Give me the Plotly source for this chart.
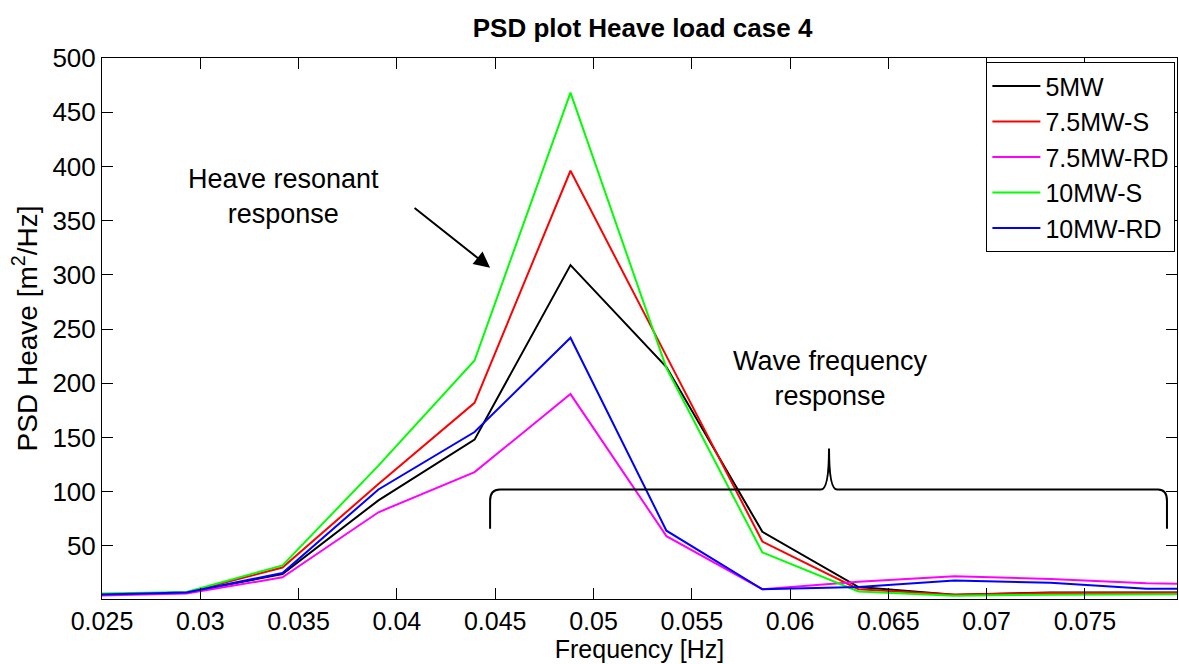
import plotly.graph_objects as go

# Frequency bins [Hz]
freq = [0.02441, 0.02930, 0.03418, 0.03906, 0.04395, 0.04883, 0.05371,
        0.05859, 0.06348, 0.06836, 0.07324, 0.07813, 0.08301]

# PSD of heave [m^2/Hz] for each design
psd_5mw = [5, 7, 24, 92, 148, 309, 215, 63, 12, 5, 7, 7.5, 7]
psd_75mw_s = [5, 7, 30, 107, 182, 396, 225, 54, 10, 5, 6.5, 7, 7]
psd_75mw_rd = [4, 6, 21, 81, 118, 190, 59, 10, 17, 22, 19.5, 15.5, 14]
psd_10mw_s = [6, 7.5, 32, 124, 221, 468, 214, 44, 8, 4, 5, 5.5, 5.5]
psd_10mw_rd = [5, 7, 25, 102, 155, 242, 64, 10, 12, 18, 16, 10.5, 10]

series_names = ["5MW", "7.5MW-S", "7.5MW-RD", "10MW-S", "10MW-RD"]
series_colors = ["#000000", "#ff0000", "#ff00ff", "#00ff00", "#0000ff"]
series_values = [psd_5mw, psd_75mw_s, psd_75mw_rd, psd_10mw_s, psd_10mw_rd]

x_ticks = [0.025, 0.03, 0.035, 0.04, 0.045, 0.05, 0.055, 0.06, 0.065, 0.07, 0.075]
x_tick_text = ["0.025", "0.03", "0.035", "0.04", "0.045", "0.05", "0.055",
               "0.06", "0.065", "0.07", "0.075"]
y_ticks = [50, 100, 150, 200, 250, 300, 350, 400, 450, 500]

FONT = "Liberation Sans, Arial, sans-serif"

fig = go.Figure()
for name, color, vals in zip(series_names, series_colors, series_values):
    fig.add_trace(go.Scatter(x=freq, y=vals, mode="lines", name=name,
                             line=dict(color=color, width=2)))

# Curly brace marking the wave-frequency band (data coordinates)
brace = ("M 0.04474,65.7 L 0.04474,91.7 Q 0.04474,101.9 0.04524,101.9 "
         "L 0.06157,101.9 Q 0.06198,101.9 0.06198,139.8 "
         "Q 0.06198,101.9 0.06239,101.9 "
         "L 0.07871,101.9 Q 0.07917,101.9 0.07917,91.7 L 0.07917,65.7")
fig.add_shape(type="path", path=brace, xref="x", yref="y",
              line=dict(color="black", width=2))

fig.add_annotation(x=0.03421, y=372.7, xref="x", yref="y",
                   text="Heave resonant<br>response", showarrow=False,
                   font=dict(family=FONT, size=27, color="black"),
                   xanchor="center", yanchor="middle")
fig.add_annotation(x=0.04474, y=306.5, xref="x", yref="y", text="",
                   showarrow=True, arrowhead=2, arrowsize=1.6, arrowwidth=2,
                   arrowcolor="black", ax=-77, ay=-61)
fig.add_annotation(x=0.06208, y=204.8, xref="x", yref="y",
                   text="Wave frequency<br>response", showarrow=False,
                   font=dict(family=FONT, size=27, color="black"),
                   xanchor="center", yanchor="middle")

fig.update_layout(
    width=1179, height=664,
    margin=dict(l=102, r=2, t=58, b=65),
    paper_bgcolor="white", plot_bgcolor="white",
    font=dict(family=FONT, size=26, color="black"),
    title=dict(text="<b>PSD plot Heave load case 4</b>", x=0.545, xanchor="center",
               y=0.958, yanchor="middle",
               font=dict(family=FONT, size=26, color="black")),
    showlegend=True,
    legend=dict(x=0.9985, y=0.992, xanchor="right", yanchor="top",
                bgcolor="white", bordercolor="black", borderwidth=1,
                font=dict(family=FONT, size=25, color="black"),
                itemwidth=48, tracegroupgap=0),
)
fig.update_xaxes(range=[0.025, 0.07968], tickvals=x_ticks, ticktext=x_tick_text,
                 ticks="inside", ticklen=11, tickcolor="black", showline=True,
                 linecolor="black", linewidth=1, mirror="ticks", showgrid=False,
                 zeroline=False, tickfont=dict(size=25),
                 title=dict(text="Frequency [Hz]", standoff=6,
                            font=dict(size=25)))
fig.update_yaxes(range=[1, 500], tickvals=y_ticks, ticks="inside", ticklen=11,
                 tickcolor="black", showline=True, linecolor="black", linewidth=1,
                 mirror="ticks", showgrid=False, zeroline=False,
                 tickfont=dict(size=26),
                 title=dict(text="PSD Heave [m<sup>2</sup>/Hz]", standoff=6,
                            font=dict(size=28)))

fig.write_html("out.html")
